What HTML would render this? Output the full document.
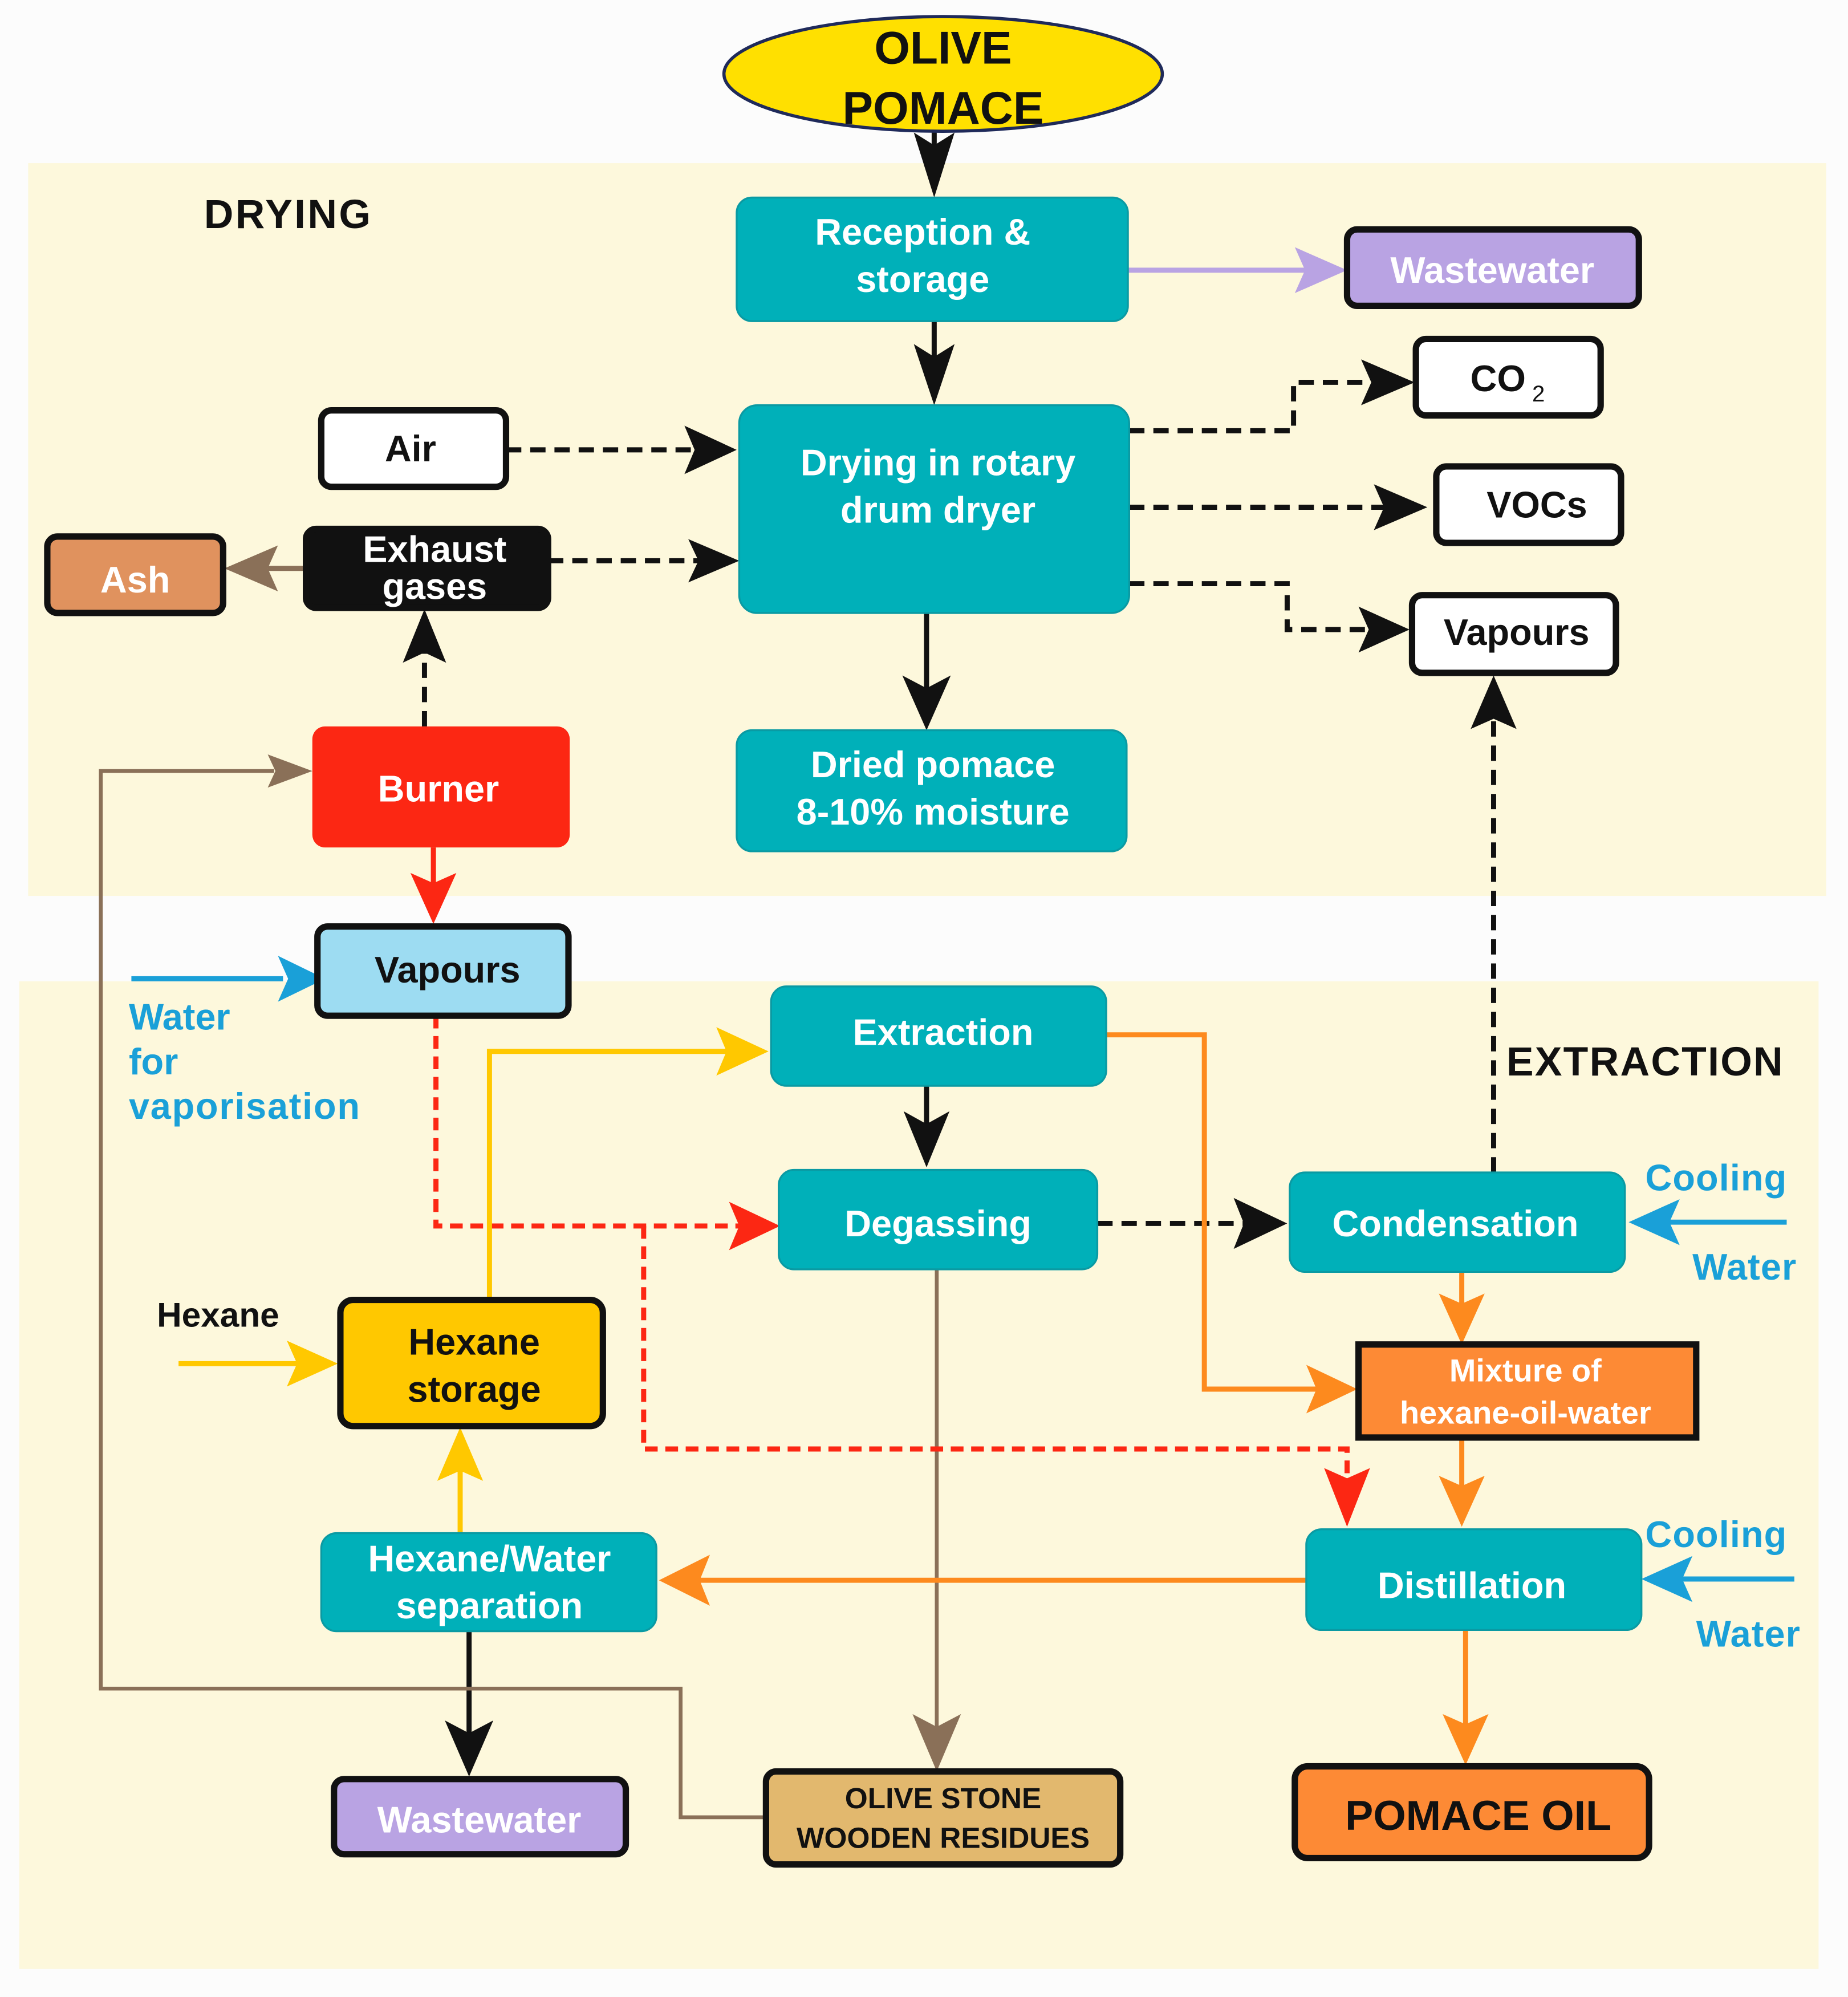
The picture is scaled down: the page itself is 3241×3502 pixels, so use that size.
<!DOCTYPE html>
<html><head><meta charset="utf-8"><style>
html,body{margin:0;padding:0;background:#fff}
svg{display:block}
text{font-family:"Liberation Sans",sans-serif;font-weight:bold}
</style></head><body>
<svg width="3241" height="3502" viewBox="0 0 1450 1567" xmlns="http://www.w3.org/2000/svg">
<rect width="1450" height="1567" fill="#fcfcfc"/>
<rect x="22" y="128" width="1411" height="575" fill="#fdf8dc"/>
<rect x="15" y="770" width="1412" height="775" fill="#fdf8dc"/>

<g fill="none" stroke-width="4">
<path d="M733,104 V130" stroke="#111"/>
<path d="M733,252 V292" stroke="#111"/>
<path d="M727,481 V545" stroke="#111"/>
<path d="M727,852 V890" stroke="#111"/>
<path d="M368,1280 V1370" stroke="#111"/>
<g stroke="#111" stroke-dasharray="12,7">
<path d="M397,353 H545"/>
<path d="M430,440 H550"/>
<path d="M333,570 V510"/>
<path d="M886,338 H1015 V300 H1080"/>
<path d="M886,398 H1090"/>
<path d="M886,458 H1010 V494 H1080"/>
<path d="M861,960 H980"/>
<path d="M1172,920 V565"/>
</g>
<path d="M885,212 H1025" stroke="#b9a3e3"/>
<path d="M240,446 H210" stroke="#8a7058"/>
<path d="M735,996 V1360" stroke="#8a7058" stroke-width="3"/>
<path d="M601,1426 H534 V1325 H79 V605 H215" stroke="#8a7058" stroke-width="3"/>
<path d="M340,665 V700" stroke="#fc2713"/>
<g stroke="#fc2713" stroke-dasharray="10,6">
<path d="M342,797 V962 H585"/>
<path d="M505,962 V1137 H1057 V1160"/>
</g>
<path d="M384,1020 V825 H575" stroke="#ffc800"/>
<path d="M140,1070 H240" stroke="#ffc800"/>
<path d="M361,1203 V1148" stroke="#ffc800"/>
<path d="M868,812 H945 V1090 H1036" stroke="#fd8a1e"/>
<path d="M1147,998 V1030" stroke="#fd8a1e"/>
<path d="M1147,1128 V1172" stroke="#fd8a1e"/>
<path d="M1025,1240 H545" stroke="#fd8a1e"/>
<path d="M1150,1279 V1360" stroke="#fd8a1e"/>
<path d="M103,768 H222" stroke="#1aa0d8"/>
<path d="M1402,959 H1305" stroke="#1aa0d8"/>
<path d="M1408,1239 H1315" stroke="#1aa0d8"/>
</g>
<g>
<path d="M717,104 L733,155 L749,104 L733,114Z" fill="#111"/>
<path d="M717,270 L733,318 L749,270 L733,280Z" fill="#111"/>
<path d="M708,530 L727,573 L746,530 L727,540Z" fill="#111"/>
<path d="M709,872 L727,916 L745,872 L727,882Z" fill="#111"/>
<path d="M349,1350 L368,1394 L387,1350 L368,1360Z" fill="#111"/>
<path d="M537,334 L578,353 L537,372 L545,353Z" fill="#111"/>
<path d="M540,423 L580,440 L540,457 L548,440Z" fill="#111"/>
<path d="M316,520 L333,478 L350,520 L333,512Z" fill="#111"/>
<path d="M1068,282 L1110,300 L1068,318 L1076,300Z" fill="#111"/>
<path d="M1078,380 L1120,398 L1078,416 L1086,398Z" fill="#111"/>
<path d="M1066,476 L1106,494 L1066,512 L1074,494Z" fill="#111"/>
<path d="M968,940 L1010,960 L968,980 L976,960Z" fill="#111"/>
<path d="M1154,572 L1172,530 L1190,572 L1172,564Z" fill="#111"/>
<path d="M1016,194 L1057,212 L1016,230 L1024,212Z" fill="#b9a3e3"/>
<path d="M218,428 L176,446 L218,464 L210,446Z" fill="#8a7058"/>
<path d="M716,1345 L735,1390 L754,1345 L735,1355Z" fill="#8a7058"/>
<path d="M210,592 L245,605 L210,618 L216,605Z" fill="#8a7058"/>
<path d="M322,685 L340,725 L358,685 L340,693Z" fill="#fc2713"/>
<path d="M572,943 L612,962 L572,981 L580,962Z" fill="#fc2713"/>
<path d="M1039,1152 L1057,1198 L1075,1152 L1057,1160Z" fill="#fc2713"/>
<path d="M562,806 L603,825 L562,844 L570,825Z" fill="#ffc800"/>
<path d="M225,1052 L265,1070 L225,1088 L233,1070Z" fill="#ffc800"/>
<path d="M343,1162 L361,1120 L379,1162 L361,1154Z" fill="#ffc800"/>
<path d="M1025,1071 L1065,1090 L1025,1109 L1033,1090Z" fill="#fd8a1e"/>
<path d="M1129,1015 L1147,1055 L1165,1015 L1147,1023Z" fill="#fd8a1e"/>
<path d="M1129,1158 L1147,1198 L1165,1158 L1147,1166Z" fill="#fd8a1e"/>
<path d="M1132,1345 L1150,1385 L1168,1345 L1150,1353Z" fill="#fd8a1e"/>
<path d="M557,1220 L517,1240 L557,1260 L549,1240Z" fill="#fd8a1e"/>
<path d="M218,750 L255,768 L218,786 L226,768Z" fill="#1aa0d8"/>
<path d="M1318,941 L1278,959 L1318,977 L1310,959Z" fill="#1aa0d8"/>
<path d="M1328,1221 L1288,1239 L1328,1257 L1320,1239Z" fill="#1aa0d8"/>
</g>

<ellipse cx="740" cy="58" rx="172" ry="45" fill="#ffe000" stroke="#1f2a5a" stroke-width="2.5"/>
<text x="740" y="50" font-size="36" text-anchor="middle" fill="#111">OLIVE</text>
<text x="740" y="97" font-size="36" text-anchor="middle" fill="#111">POMACE</text>

<g fill="#00b0b9" stroke="#0a9aa3" stroke-width="1.5">
<rect x="578" y="155" width="307" height="97" rx="12"/>
<rect x="580" y="318" width="306" height="163" rx="14"/>
<rect x="578" y="573" width="306" height="95" rx="12"/>
<rect x="605" y="774" width="263" height="78" rx="12"/>
<rect x="611" y="918" width="250" height="78" rx="12"/>
<rect x="1012" y="920" width="263" height="78" rx="12"/>
<rect x="1025" y="1200" width="263" height="79" rx="12"/>
<rect x="252" y="1203" width="263" height="77" rx="12"/>
</g>
<g fill="#fff" font-size="29" text-anchor="middle">
<text x="724" y="192">Reception &amp;</text>
<text x="724" y="229">storage</text>
<text x="736" y="373">Drying in rotary</text>
<text x="736" y="410">drum dryer</text>
<text x="732" y="610">Dried pomace</text>
<text x="732" y="647">8-10% moisture</text>
<text x="740" y="820">Extraction</text>
<text x="736" y="970">Degassing</text>
<text x="1142" y="970">Condensation</text>
<text x="1155" y="1254">Distillation</text>
<text x="384" y="1233">Hexane/Water</text>
<text x="384" y="1270">separation</text>
</g>

<g stroke="#111" stroke-width="5">
<rect x="1057" y="180" width="229" height="60" rx="8" fill="#b9a3e3"/>
<rect x="1111" y="266" width="145" height="60" rx="8" fill="#fff"/>
<rect x="1127" y="366" width="145" height="60" rx="8" fill="#fff"/>
<rect x="1108" y="467" width="160" height="61" rx="8" fill="#fff"/>
<rect x="252" y="322" width="145" height="60" rx="8" fill="#fff"/>
<rect x="240" y="415" width="190" height="62" rx="8" fill="#111"/>
<rect x="37" y="421" width="138" height="60" rx="8" fill="#e0925e"/>
<rect x="249" y="727" width="197" height="70" rx="8" fill="#9ddcf2"/>
<rect x="267" y="1020" width="206" height="99" rx="10" fill="#ffc800"/>
<rect x="1066" y="1055" width="265" height="73" fill="#fd8a35"/>
<rect x="262" y="1396" width="229" height="59" rx="8" fill="#b9a3e3"/>
<rect x="601" y="1390" width="278" height="73" rx="8" fill="#e2b86e"/>
<rect x="1016" y="1386" width="278" height="72" rx="10" fill="#fd8a35"/>
</g>
<rect x="245" y="570" width="202" height="95" rx="10" fill="#fc2713"/>

<g font-size="29" text-anchor="middle">
<text x="1171" y="222" fill="#fff">Wastewater</text>
<text x="1183" y="307" fill="#111">CO<tspan font-size="18" dy="8" font-weight="normal"> 2</tspan></text>
<text x="1206" y="406" fill="#111">VOCs</text>
<text x="1190" y="506" fill="#111">Vapours</text>
<text x="322" y="362" fill="#111">Air</text>
<text x="341" y="441" fill="#fff">Exhaust</text>
<text x="341" y="470" fill="#fff">gases</text>
<text x="106" y="465" fill="#fff">Ash</text>
<text x="344" y="629" fill="#fff">Burner</text>
<text x="351" y="771" fill="#111">Vapours</text>
<text x="372" y="1063" fill="#111">Hexane</text>
<text x="372" y="1100" fill="#111">storage</text>
<text x="1197" y="1084" font-size="25" fill="#fff">Mixture of</text>
<text x="1197" y="1117" font-size="25" fill="#fff">hexane-oil-water</text>
<text x="376" y="1438" fill="#fff">Wastewater</text>
<text x="740" y="1419" font-size="23" fill="#111" font-weight="normal">OLIVE STONE</text>
<text x="740" y="1450" font-size="23" fill="#111" font-weight="normal">WOODEN RESIDUES</text>
<text x="1160" y="1436" font-size="33" fill="#111">POMACE OIL</text>
</g>

<text x="160" y="179" font-size="32" fill="#111" letter-spacing="1.5">DRYING</text>
<text x="1182" y="844" font-size="32" fill="#111" font-weight="normal" letter-spacing="1">EXTRACTION</text>
<text x="123" y="1041" font-size="27" fill="#111">Hexane</text>
<g font-size="29" fill="#1aa0d8">
<text x="101" y="808">Water</text>
<text x="101" y="843">for</text>
<text x="101" y="878" letter-spacing="0.8">vaporisation</text>
<text x="1291" y="934" letter-spacing="0.5">Cooling</text>
<text x="1328" y="1004" letter-spacing="0.5">Water</text>
<text x="1291" y="1214" letter-spacing="0.5">Cooling</text>
<text x="1331" y="1292" letter-spacing="0.5">Water</text>
</g>
</svg>
</body></html>
